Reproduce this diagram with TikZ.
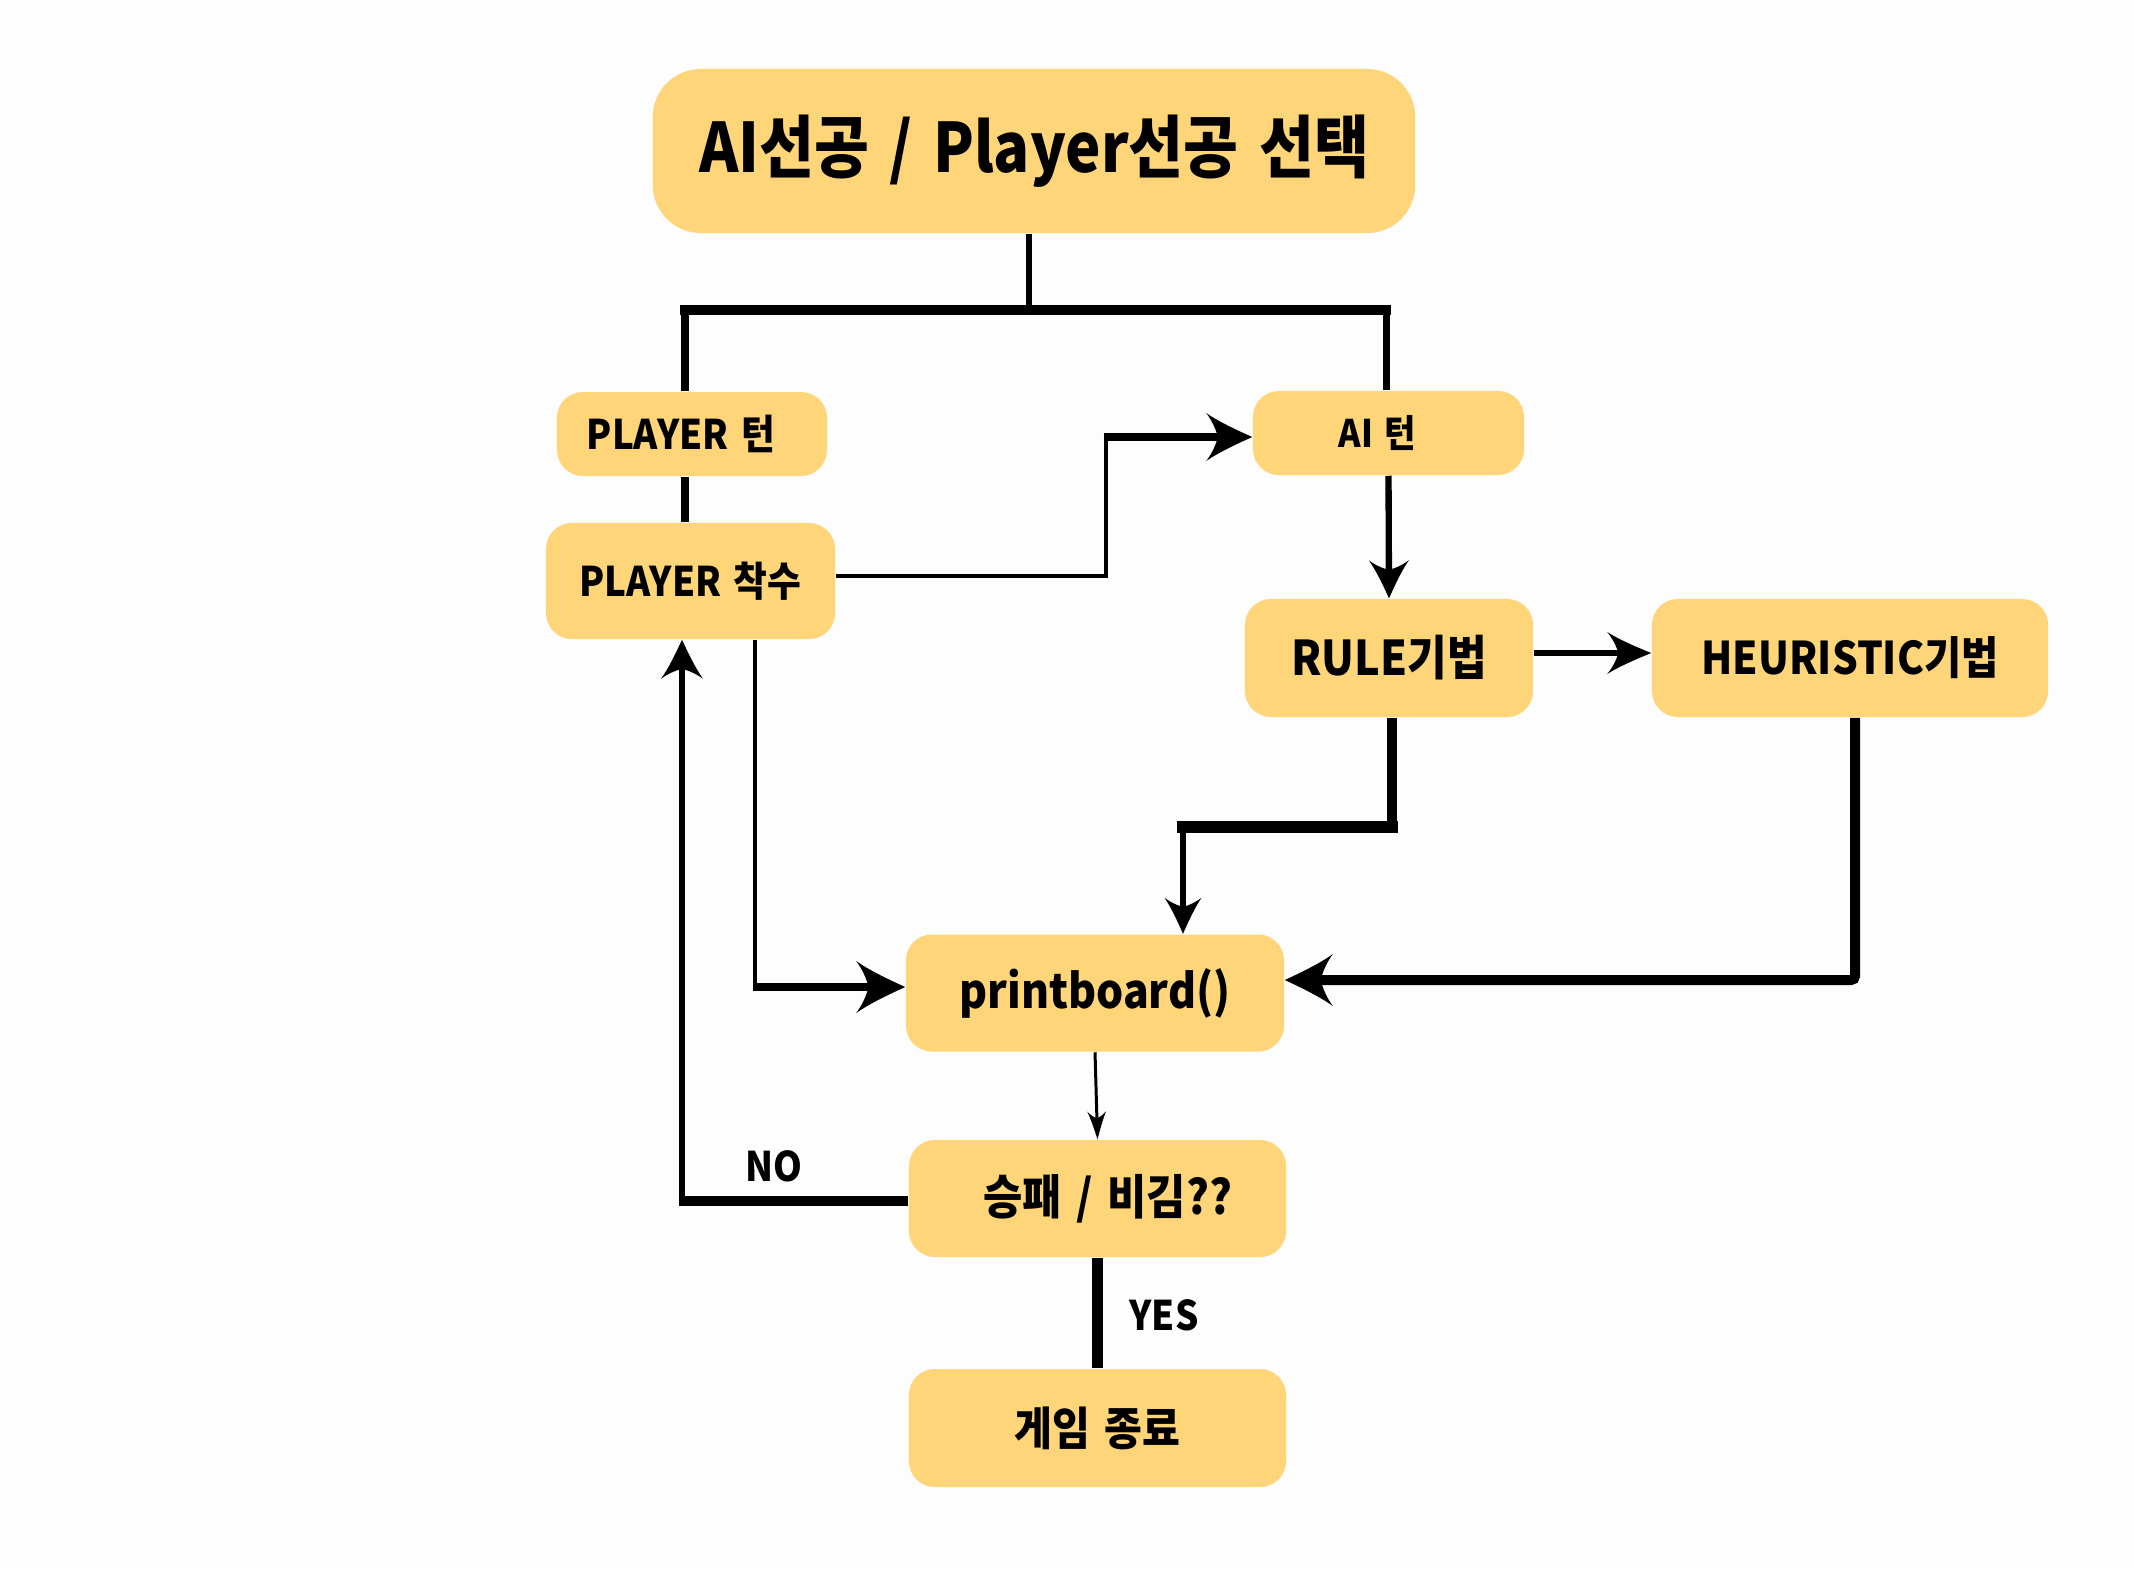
\documentclass[tikz,border=0pt]{standalone}
\usepackage{fontspec}
\newfontfamily\kr[FakeStretch=0.9,WordSpace=1.5]{Noto Sans CJK KR}
\newfontfamily\krt[FakeStretch=0.875,WordSpace=1.5]{Noto Sans CJK KR}
\usetikzlibrary{arrows.meta}
\definecolor{boxy}{RGB}{254,214,121}
\definecolor{bgc}{RGB}{253,253,253}

\pgfdeclarearrow{
  name = Swoosh,
  parameters = {\the\pgfarrowlength,\the\pgfarrowwidth},
  setup code = {
    \pgfarrowssettipend{0pt}
    \pgfarrowssetbackend{-\pgfarrowlength}
    \pgfarrowssetlineend{-0.6\pgfarrowlength}
    \pgfarrowssetvisualbackend{-0.7\pgfarrowlength}
    \pgfarrowssavethe\pgfarrowlength
    \pgfarrowssavethe\pgfarrowwidth
  },
  drawing code = {
    \pgfpathmoveto{\pgfqpoint{0pt}{0pt}}
    \pgfpathcurveto{\pgfpoint{-0.35\pgfarrowlength}{0.15\pgfarrowwidth}}{\pgfpoint{-0.75\pgfarrowlength}{0.33\pgfarrowwidth}}{\pgfpoint{-\pgfarrowlength}{0.5\pgfarrowwidth}}
    \pgfpathcurveto{\pgfpoint{-0.88\pgfarrowlength}{0.35\pgfarrowwidth}}{\pgfpoint{-0.78\pgfarrowlength}{0.15\pgfarrowwidth}}{\pgfpoint{-0.75\pgfarrowlength}{0pt}}
    \pgfpathcurveto{\pgfpoint{-0.78\pgfarrowlength}{-0.15\pgfarrowwidth}}{\pgfpoint{-0.88\pgfarrowlength}{-0.35\pgfarrowwidth}}{\pgfpoint{-\pgfarrowlength}{-0.5\pgfarrowwidth}}
    \pgfpathcurveto{\pgfpoint{-0.75\pgfarrowlength}{-0.33\pgfarrowwidth}}{\pgfpoint{-0.35\pgfarrowlength}{-0.15\pgfarrowwidth}}{\pgfqpoint{0pt}{0pt}}
    \pgfpathclose
    \pgfusepathqfill
  },
  defaults = {length = 0.4cm, width = 0.4cm}
}

\begin{document}
\begin{tikzpicture}[x=0.01cm,y=-0.01cm,
  box/.style={fill=boxy, rounded corners=0.26cm, inner sep=0pt, align=center},
  lbl/.style={inner sep=0pt, font=\kr\bfseries\fontsize{11.6pt}{13pt}\selectfont},
  conn/.style={draw=black, line cap=butt, line join=miter}
]
\fill[bgc] (0,0) rectangle (2134,1568);
\useasboundingbox (0,0) rectangle (2134,1568);

% boxes
\node[box, rounded corners=0.48cm, minimum width=7.62cm, minimum height=1.64cm,
      font=\krt\bfseries\fontsize{19.4pt}{22pt}\selectfont] (title) at (1034,151) {AI선공 / Player선공 선택};
\node[box, minimum width=2.70cm, minimum height=0.84cm,
      font=\kr\bfseries\fontsize{11.6pt}{13pt}\selectfont] (pturn) at (692,434) {\hspace*{-0.22cm}PLAYER 턴};
\node[box, minimum width=2.89cm, minimum height=1.16cm,
      font=\kr\bfseries\fontsize{11.6pt}{13pt}\selectfont] (pmove) at (690.5,581) {PLAYER 착수};
\node[box, minimum width=2.71cm, minimum height=0.84cm,
      font=\kr\bfseries\fontsize{10.8pt}{12pt}\selectfont] (aiturn) at (1388.5,433) {\hspace*{-0.22cm}AI 턴};
\node[box, minimum width=2.88cm, minimum height=1.18cm,
      font=\kr\bfseries\fontsize{13.6pt}{15pt}\selectfont] (rule) at (1389,658) {RULE기법};
\node[box, minimum width=3.96cm, minimum height=1.18cm,
      font=\kr\bfseries\fontsize{12.8pt}{15pt}\selectfont] (heur) at (1850,658) {HEURISTIC기법};
\node[box, minimum width=3.78cm, minimum height=1.17cm,
      font=\kr\bfseries\fontsize{13.5pt}{15pt}\selectfont] (pb) at (1095,993) {printboard()};
\node[box, minimum width=3.77cm, minimum height=1.17cm,
      font=\kr\bfseries\fontsize{13.5pt}{15pt}\selectfont] (win) at (1097.5,1198.5) {승패 / 비김??\hspace*{-0.2cm}};
\node[box, minimum width=3.77cm, minimum height=1.18cm,
      font=\kr\bfseries\fontsize{13pt}{15pt}\selectfont] (fin) at (1097.5,1428) {게임 종료};

% labels
\node[lbl] (no) at (774,1166) {NO};
\node[lbl] (yes) at (1164,1315) {YES};

% junction coordinates
\coordinate (jt) at (1029,310);
\coordinate (jl) at (685,310);
\coordinate (jr) at (1386,310);
\coordinate (k1) at (1106,576);
\coordinate (k2) at (1106,437);
\coordinate (r1) at (1392,827);
\coordinate (r2) at (1183,827);
\coordinate (h1) at (1855,980);
\coordinate (m1) at (755,987);
\coordinate (n1) at (682,1201);

% title to turns
\draw[conn, line width=1.8pt] (title.south -| jt) -- (jt);
\draw[conn, line width=2.0pt] (jl) -- (pturn.north -| jl);
\draw[conn, line width=2.0pt] (jr) -- (aiturn.north -| jr);
\draw[conn, line width=2.8pt, line cap=rect] (jl) -- (jr);

% player turn to player move
\draw[conn, line width=2.2pt] (pturn.south -| jl) -- (pmove.north -| jl);

% player move to AI turn
\draw[conn, line width=1.3pt] (pmove.east |- k1) -- (k1) -- (k2);
\draw[conn, line width=2.2pt, -{Swoosh[length=0.46cm,width=0.48cm]}] ([xshift=-0.6pt]k2) -- (aiturn.west |- k2);

% AI turn to rule
\draw[conn, line width=1.8pt, -{Swoosh[length=0.38cm,width=0.40cm]}] (aiturn.south) -- (rule.north);

% rule to heuristic
\draw[conn, line width=1.9pt, -{Swoosh[length=0.44cm,width=0.42cm]}] (rule.east |- 0,653) -- (heur.west |- 0,653);

% rule to printboard
\draw[conn, line width=2.85pt] (rule.south -| r1) -- ([yshift=-1.6pt]r1);
\draw[conn, line width=3.3pt, line cap=rect] (r1) -- (r2);
\draw[conn, line width=1.7pt, -{Swoosh[length=0.36cm,width=0.37cm]}] (r2) -- (pb.north -| r2);

% heuristic to printboard
\draw[conn, line width=2.85pt, rounded corners=0.04cm, -{Swoosh[length=0.48cm,width=0.52cm]}] (heur.south -| h1) -- (h1) -- (pb.east |- h1);

% player move to printboard
\draw[conn, line width=1.4pt] (pmove.south -| m1) -- ([yshift=-1.2pt]m1);
\draw[conn, line width=2.3pt, -{Swoosh[length=0.49cm,width=0.52cm]}] ([xshift=-0.7pt]m1) -- (pb.west |- m1);

% printboard to result
\draw[conn, line width=0.85pt, -{Swoosh[length=0.28cm,width=0.19cm]}] (pb.south) -- (win.north);

% NO loop back
\draw[conn, line width=2.6pt] (win.west |- n1) -- ([xshift=-0.75pt]n1);
\draw[conn, line width=1.5pt, -{Swoosh[length=0.39cm,width=0.42cm]}] ([yshift=-1.3pt]n1) -- (pmove.south -| n1);

% YES to end
\draw[conn, line width=3pt] (win.south) -- (fin.north);
\end{tikzpicture}
\end{document}
